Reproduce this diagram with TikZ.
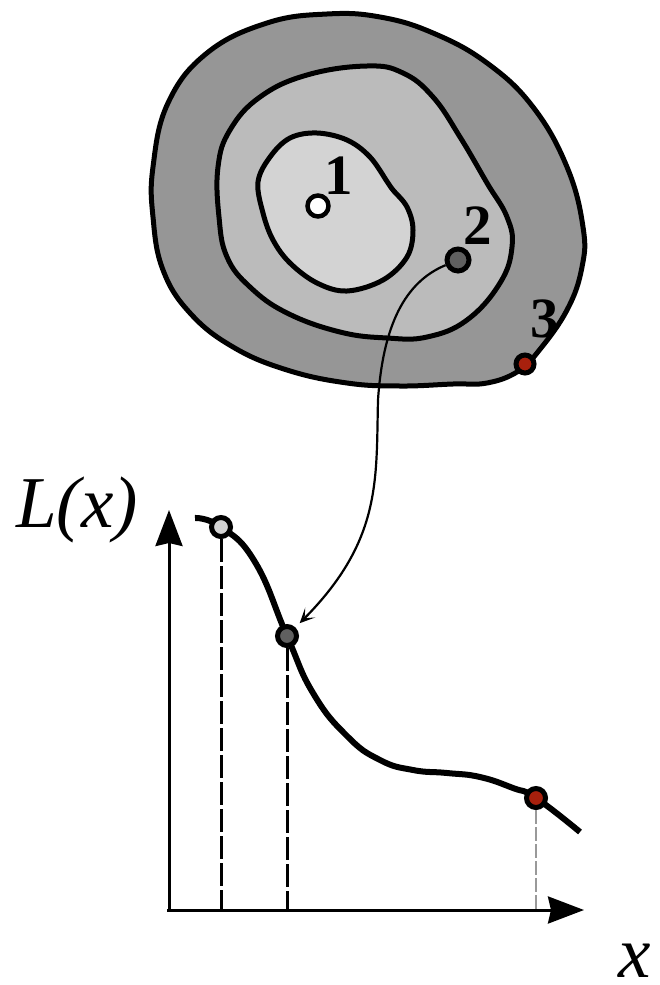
\documentclass[tikz,border=0pt]{standalone}
\usepackage{fontspec}
\setmainfont{Liberation Serif}
\usetikzlibrary{arrows.meta, positioning, calc}
\definecolor{outerzone}{HTML}{969696}
\definecolor{midzone}{HTML}{BBBBBB}
\definecolor{innerzone}{HTML}{D3D3D3}
\definecolor{darkdot}{HTML}{606060}
\definecolor{reddot}{HTML}{A8200D}
\tikzset{
  zone/.style={draw=black, line width=5pt, fill=#1},
  dot/.style={circle, draw=black, line width=5pt, fill=#1, minimum size=19pt, inner sep=0pt},
  numlbl/.style={font=\fontsize{57}{60}\selectfont\bfseries, inner sep=0pt},
  axislbl/.style={font=\fontsize{73}{76}\selectfont\itshape, inner sep=0pt},
  axisarr/.style={-{Stealth[length=36pt, width=27pt, inset=3pt]}, line width=3pt},
  droparr/.style={dash pattern=on 23pt off 4pt, line width=3pt},
  droparrlight/.style={dash pattern=on 14pt off 3pt, line width=2pt, draw=black!40},
}
\begin{document}
\begin{tikzpicture}[x=1pt, y=-1pt]
  \useasboundingbox (0,0) rectangle (659,985);

  \draw[zone=outerzone] plot[smooth cycle, tension=0.7] coordinates {
    (153,167) (168,103) (207,53) (267,23) (327,14) (380,17) (433,33) (487,63)
    (533,107) (567,167) (583,227) (582,267) (567,310) (537,353) (517,372)
    (487,383) (453,384) (400,386) (347,383) (287,370) (233,347) (190,313)
    (163,270) (153,217)};
  \draw[zone=midzone] plot[smooth cycle, tension=0.7] coordinates {
    (218,167) (230,130) (260,97) (307,75) (367,66) (403,73) (433,97) (460,137)
    (487,183) (507,217) (512,247) (500,283) (467,320) (427,337) (387,338)
    (340,332) (287,313) (250,287) (227,257) (219,217)};
  \draw[zone=innerzone] plot[smooth cycle, tension=0.6] coordinates {
    (258,182) (270,157) (290,138) (317,133) (347,140) (370,157) (388,183)
    (393,190) (407,207) (413,230) (407,257) (383,280) (347,291) (317,283)
    (290,263) (273,240) (263,213)};

  \node[dot=white, minimum size=21pt, line width=4.5pt] (pt1) at (318,206) {};
  \node[dot=darkdot, minimum size=22pt] (pt2) at (458,260) {};
  \node[dot=reddot, minimum size=18pt] (pt3) at (525,364) {};
  \node[numlbl] (num1) at (339,176) {1};
  \node[numlbl] (num2) at (478,226) {2};
  \node[numlbl] (num3) at (545,319) {3};

  \coordinate (ytip) at (169,510);
  \coordinate (xtip) at (584,910);
  \draw[axisarr] (167,910) -- (xtip);
  \draw[axisarr] (169,910) -- (ytip);

  \coordinate (foot1) at (221,910);
  \coordinate (foot2) at (287,910);
  \coordinate (foot3) at (536,910);

  \draw[line width=6pt] plot[smooth, tension=0.8] coordinates {
    (195,518) (221,527) (255,562) (287,636) (313,693) (347,736) (380,760)
    (413,770) (447,773) (480,777) (513,788) (536,798) (580,832)};

  \node[dot=innerzone] (low1) at (221,527) {};
  \node[dot=darkdot] (low2) at (287,636) {};
  \node[dot=reddot] (low3) at (536,798) {};

  \draw[droparr] (low1) -- (foot1);
  \draw[droparr] (low2) -- (foot2);
  \draw[droparrlight] (low3) -- (foot3);

  \draw[line width=2.2pt, -{Stealth[length=15pt, width=14pt, inset=8pt]}, shorten >=6pt]
    (pt2) .. controls (405,282) and (383,325) .. (378,400)
          .. controls (376,480) and (382,540) .. (low2);

  \node[axislbl] (lossname) at (77,510) {L(x)};
  \node[axislbl] (xname) at (635,961) {x};
\end{tikzpicture}
\end{document}
